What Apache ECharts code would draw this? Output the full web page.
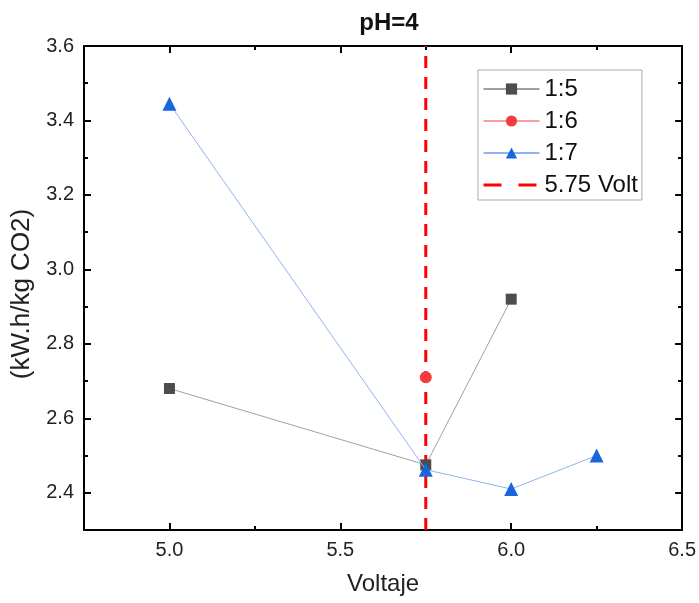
<!DOCTYPE html>
<html>
<head>
<meta charset="utf-8">
<script src="https://cdn.jsdelivr.net/npm/echarts@6/dist/echarts.min.js"></script>
<style>html,body{margin:0;padding:0;background:#fff;}#c{width:699px;height:603px;}</style>
</head>
<body>
<div id="c"></div>
<script>
const titleText = 'pH=4';
const xName = 'Voltaje';
const yName = '(kW.h/kg CO2)';
const seriesNames = ['1:5', '1:6', '1:7', '5.75 Volt'];
const volt15 = [5.0, 5.75, 6.0];
const val15 = [2.68, 2.475, 2.92];
const volt16 = [5.75];
const val16 = [2.71];
const volt17 = [5.0, 5.75, 6.0, 6.25];
const val17 = [3.445, 2.462, 2.41, 2.50];
const refVolt = 5.75;
const xMin = 4.75, xMax = 6.5;
const yMin = 2.3, yMax = 3.6;
const xMajor = [5.0, 5.5, 6.0, 6.5];
const xMinor = [5.25, 5.75, 6.25];
const yMajor = [2.4, 2.6, 2.8, 3.0, 3.2, 3.4, 3.6];
const yMinor = [2.5, 2.7, 2.9, 3.1, 3.3, 3.5];

function pairs(xs, ys) { return xs.map((x, i) => [x, ys[i]]); }

const font = 'Liberation Sans, Arial, sans-serif';
const tickStyle = { color: '#000', width: 2 };

function makeAxis(min, max, position, major, minor, withLine, withLabels, extra) {
  const ax = {
    type: 'value', min: min, max: max, position: position,
    axisLine: { show: withLine, onZero: false, lineStyle: { color: '#000', width: 2 } },
    axisTick: { show: true, inside: true, length: minor ? 4 : 7, customValues: minor || major, lineStyle: tickStyle },
    splitLine: { show: false },
    axisLabel: withLabels
      ? { show: true, color: '#222', fontSize: 20, margin: 10, fontFamily: font, customValues: major, formatter: v => v.toFixed(1) }
      : { show: false }
  };
  return Object.assign(ax, extra || {});
}

const chart = echarts.init(document.getElementById('c'));
chart.setOption({
  animation: false,
  title: { text: titleText, left: 384, textAlign: 'center', top: 6, textStyle: { fontSize: 24, fontWeight: 'bold', fontFamily: font, color: '#111' } },
  grid: { left: 84, right: 14, top: 46, bottom: 73 },
  legend: {
    data: [seriesNames[0], seriesNames[1], seriesNames[2],
      { name: seriesNames[3], itemStyle: { opacity: 0 }, lineStyle: { type: [18, 17], width: 3, color: '#ff0000' } }],
    orient: 'vertical',
    left: 478, top: 70,
    padding: [7, 4, 3, 4],
    itemWidth: 56, itemHeight: 14, itemGap: 8,
    borderColor: '#aaa', borderWidth: 1,
    textStyle: { fontSize: 24, fontFamily: font, color: '#111' }
  },
  xAxis: [
    makeAxis(xMin, xMax, 'bottom', xMajor, null, true, true, {
      name: xName, nameLocation: 'middle', nameGap: 42,
      nameTextStyle: { fontSize: 24, fontFamily: font, color: '#222' }
    }),
    makeAxis(xMin, xMax, 'top', xMajor, null, true, false),
    makeAxis(xMin, xMax, 'bottom', xMajor, xMinor, false, false),
    makeAxis(xMin, xMax, 'top', xMajor, xMinor, false, false)
  ],
  yAxis: [
    makeAxis(yMin, yMax, 'left', yMajor, null, true, true, {
      name: yName, nameLocation: 'middle', nameGap: 44,
      nameTextStyle: { fontSize: 26, fontFamily: font, color: '#222', padding: [0, 12, 0, 0] }
    }),
    makeAxis(yMin, yMax, 'right', yMajor, null, true, false),
    makeAxis(yMin, yMax, 'left', yMajor, yMinor, false, false),
    makeAxis(yMin, yMax, 'right', yMajor, yMinor, false, false)
  ],
  series: [
    {
      name: '5.75 Volt', type: 'line', z: 1,
      data: [[refVolt, yMin], [refVolt, yMax]],
      symbol: 'none',
      lineStyle: { color: '#ff0000', width: 3, type: [12, 9] },
      itemStyle: { color: '#ff0000' }
    },
    {
      name: '1:5', type: 'line', z: 2,
      data: pairs(volt15, val15),
      symbol: 'rect', symbolSize: 11,
      lineStyle: { color: '#a0a0a0', width: 1 },
      itemStyle: { color: '#4d4d4d' }
    },
    {
      name: '1:6', type: 'line', z: 3,
      data: pairs(volt16, val16),
      symbol: 'circle', symbolSize: 12,
      lineStyle: { color: '#f7a0a0', width: 1 },
      itemStyle: { color: '#f43c3c' }
    },
    {
      name: '1:7', type: 'line', z: 4,
      data: pairs(volt17, val17),
      symbol: 'triangle', symbolSize: 14,
      lineStyle: { color: '#8db4ef', width: 1 },
      itemStyle: { color: '#1866de' }
    }
  ]
});
</script>
</body>
</html>
